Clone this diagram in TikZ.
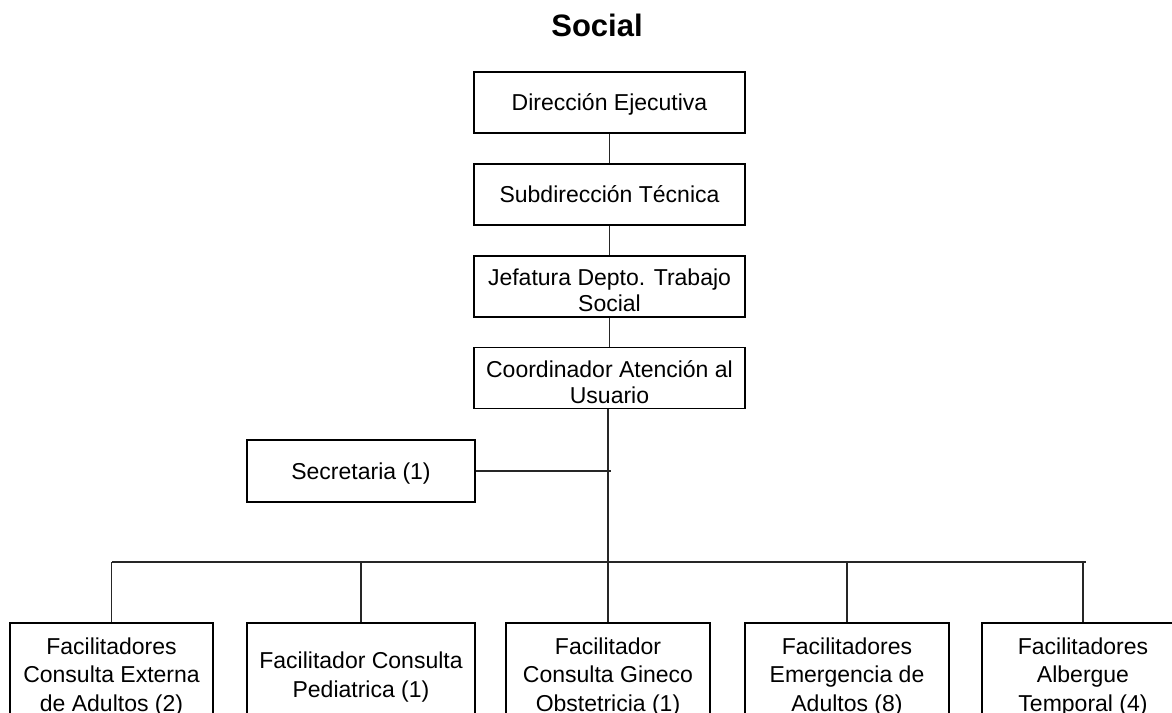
\documentclass[tikz,border=0pt]{standalone}
\usepackage{fontspec}
\setmainfont{Liberation Sans}
\begin{document}
\begin{tikzpicture}[x=1pt,y=-1pt,
  box/.style={draw=black, line width=1.6pt, inner sep=0pt, align=center, font=\fontsize{23}{26}\selectfont},
  topbox/.style={box, minimum width=271pt, minimum height=61pt},
  oneline/.style={text height=18pt, text depth=1.5pt},
  botbox/.style={box, minimum height=108pt, font=\fontsize{23}{28.5}\selectfont},
  link/.style={draw=black!85, line width=1.3pt}]
\useasboundingbox[fill=white] (0,0) rectangle (1172,712);
\node[font=\bfseries\fontsize{31}{36}\selectfont] (title) at (597,25) {Social};
\node[topbox, oneline] (dir) at (609.5,102.5) {Dirección Ejecutiva};
\node[topbox, oneline] (sub) at (609.5,194.5) {Subdirección Técnica};
\node[topbox] (jef) at (609.5,286.5) {\rule{0pt}{25pt}Jefatura Depto. Trabajo\\Social};
\node[topbox] (coord) at (609.5,378) {\rule{0pt}{25pt}Coordinador Atención al\\Usuario};
\node[box, oneline, minimum width=228pt, minimum height=62pt] (sec) at (361,471) {Secretaria (1)};
\node[botbox, minimum width=203pt] (b1) at (111.5,677) {Facilitadores\\Consulta Externa\\de Adultos (2)};
\node[botbox, minimum width=228pt] (b2) at (361,677) {Facilitador Consulta\\Pediatrica (1)};
\node[botbox, minimum width=204pt] (b3) at (608,677) {Facilitador\\Consulta Gineco\\Obstetricia (1)};
\node[botbox, minimum width=204pt] (b4) at (847,677) {Facilitadores\\Emergencia de\\Adultos (8)};
\node[botbox, minimum width=202pt] (b5) at (1083,677) {Facilitadores\\Albergue\\Temporal (4)};
\coordinate (busL) at (112,562);
\coordinate (busR) at (1086,562);
\draw[link] (dir) -- (sub);
\draw[link] (sub) -- (jef);
\draw[link] (jef) -- (coord);
\draw[link] (coord.south -| b3.north) -- (b3.north);
\coordinate (secend) at ([xshift=3pt]sec.east -| b3.north);
\draw[link] (sec.east) -- (secend);
\draw[link] (busL) -- (busR);
\foreach \b in {b1,b2,b4,b5} {\draw[link] (\b.north |- busL) -- (\b.north);}
\end{tikzpicture}
\end{document}
